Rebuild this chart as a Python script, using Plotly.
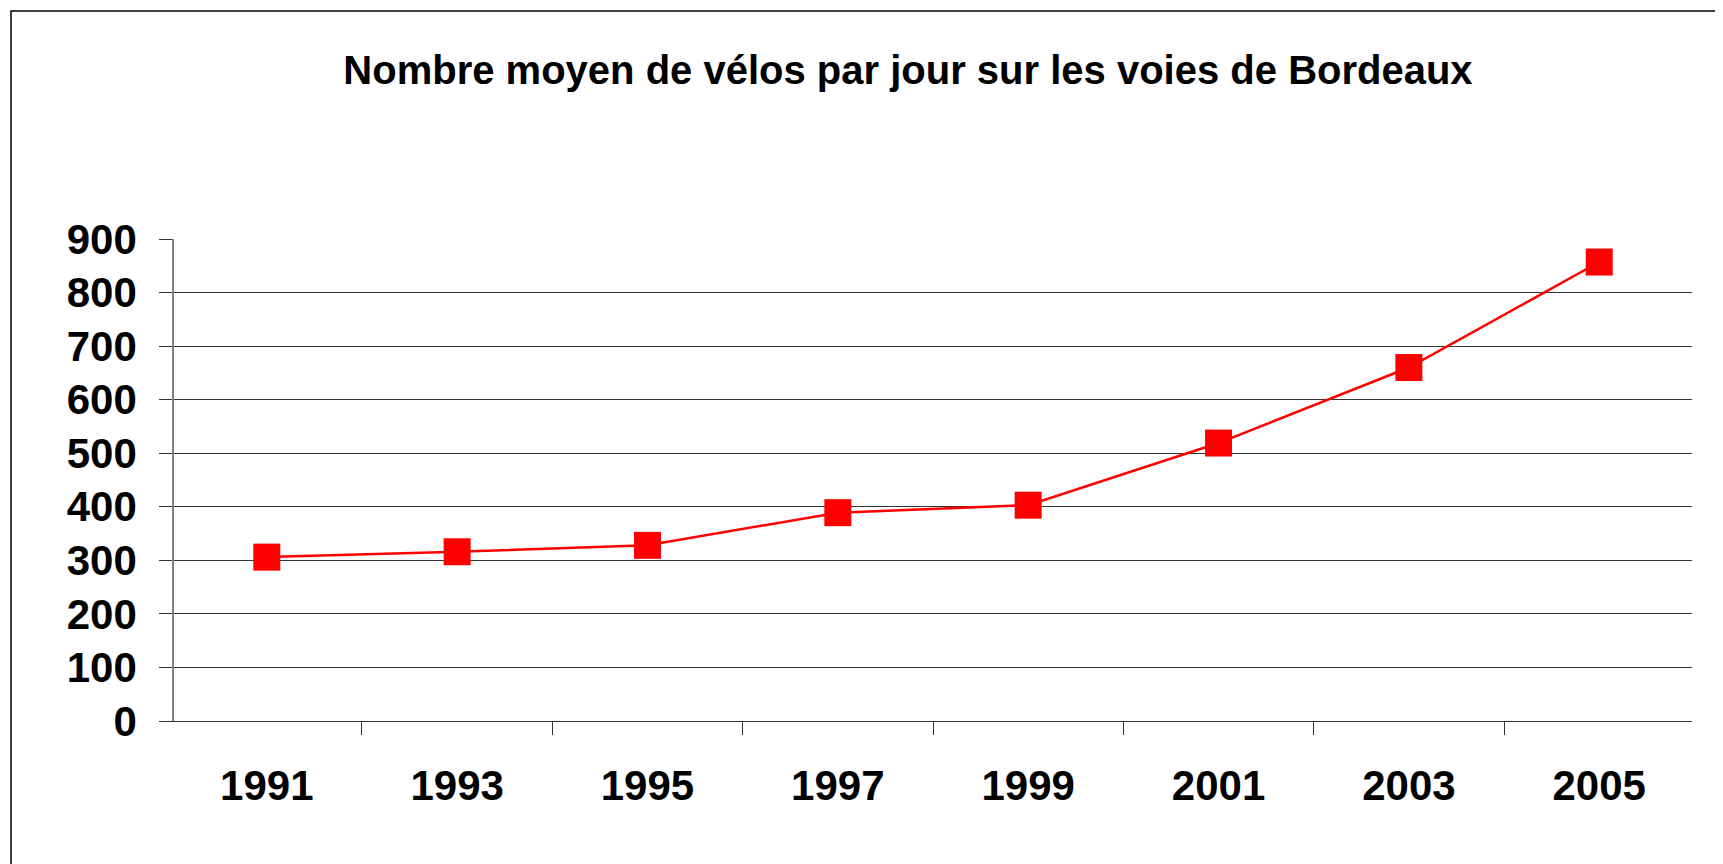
import plotly.graph_objects as go

years = ["1991", "1993", "1995", "1997", "1999", "2001", "2003", "2005"]
velos = [306, 316, 328, 389, 403, 519, 660, 857]
y_ticks = [0, 100, 200, 300, 400, 500, 600, 700, 800, 900]
title_text = "Nombre moyen de vélos par jour sur les voies de Bordeaux"

FONT = "Liberation Sans, Arial, sans-serif"
W, H = 1715, 856

fig = go.Figure()
fig.add_trace(go.Scatter(
    x=years, y=velos, mode="lines+markers",
    line=dict(color="#FF0000", width=2.5),
    marker=dict(symbol="square", size=27, color="#FF0000", line=dict(width=0)),
    showlegend=False, hoverinfo="x+y",
))

fig.update_layout(
    width=W, height=H,
    paper_bgcolor="white", plot_bgcolor="white",
    margin=dict(l=166, r=31, t=231, b=143),
    title=dict(
        text=title_text,
        x=900 / W, xanchor="center", xref="container",
        y=1 - 62 / H, yanchor="middle", yref="container",
        font=dict(family=FONT, size=40, color="black", weight="bold"),
    ),
    xaxis=dict(
        type="category",
        tickson="boundaries",
        ticks="outside", ticklen=13, tickwidth=1, tickcolor="#333333",
        showline=True, linecolor="#333333", linewidth=1,
        showgrid=False, zeroline=False,
        tickfont=dict(family=FONT, size=42, color="black", weight="bold"),
        ticklabelstandoff=28,
    ),
    yaxis=dict(
        range=[0, 900],
        tickvals=y_ticks, ticktext=[str(v) for v in y_ticks],
        ticks="outside", ticklen=13, tickwidth=1, tickcolor="#333333",
        showline=True, linecolor="#808080", linewidth=1.5,
        showgrid=True, gridcolor="#333333", gridwidth=1,
        zeroline=False,
        tickfont=dict(family=FONT, size=42, color="black", weight="bold"),
        ticklabelstandoff=14,
    ),
    shapes=[dict(
        type="rect", layer="above",
        xref="paper", yref="paper",
        xsizemode="pixel", ysizemode="pixel",
        xanchor=0, yanchor=1,
        x0=-163, x1=2000, y0=228, y1=-1200,
        line=dict(color="black", width=1.5), fillcolor="rgba(0,0,0,0)",
    )],
)

fig.write_html("out.html")
